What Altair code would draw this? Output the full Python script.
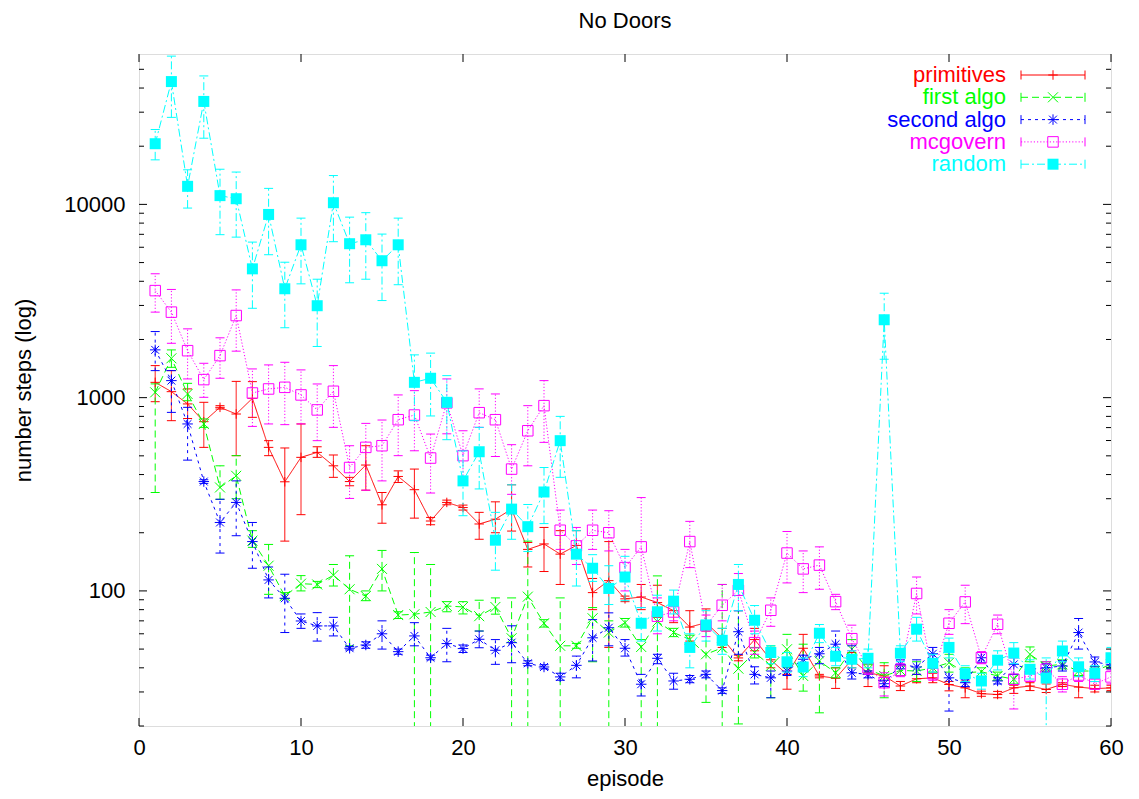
import altair as alt
import pandas as pd

episodes = list(range(1, 61))
series_names = ["primitives", "first algo", "second algo", "mcgovern", "random"]
series_colors = ["#ff0000", "#00ff00", "#0000ff", "#ff00ff", "#00ffff"]

prim_val = [1200, 1074, 928, 751, 891, 823, 992, 553, 367, 491,
            521, 444, 368, 448, 279, 391, 334, 230, 287, 270,
            222, 235, 265, 164, 175, 155, 172, 98, 113, 91,
            93, 87, 79, 65, 68.5, 57, 45, 56, 44, 37,
            50.5, 36.3, 35.3, 44, 37.7, 36.3, 32.2, 35.1, 35.5, 32.8,
            31.5, 29.4, 29.1, 31.5, 32.2, 30.9, 32.9, 31.8, 31.2, 31.5]
prim_lo = [953, 760, 780, 553, 873, 501, 791, 501, 181, 248,
           491, 387, 350, 332, 224, 364, 238, 220, 279, 262,
           185, 200, 204, 133, 126, 108, 149, 80, 51, 88,
           80, 73, 68.5, 55, 62, 51, 43.5, 49, 40, 31,
           40, 35.5, 31.3, 40, 32, 32, 30.5, 33.5, 33.5, 30.4,
           28, 28.5, 28, 29.5, 30.5, 29.8, 32, 28, 30, 30.5]
prim_hi = [1465, 1380, 1110, 946, 909, 1214, 1210, 599, 549, 731,
           557, 505, 387, 564, 323, 418, 427, 240, 295, 278,
           255, 289, 354, 178, 213, 205, 205, 116, 180, 94,
           108, 107, 84, 79, 80.7, 64, 46.5, 64, 51, 42,
           59.6, 37, 40, 48, 42, 41, 34, 37, 37.5, 34,
           34.2, 30.3, 30.2, 32.5, 33.5, 33, 33.5, 36.3, 32.5, 32.5]

first_val = [1065, 1598, 1045, 731, 343, 394, 182, 135, 94, 109,
             108, 120.6, 102, 94, 130, 75, 75.7, 77.8, 83.6, 82.6,
             74, 82.6, 56.9, 93.4, 68, 52, 52, 72.2, 60.9, 68.5,
             51.3, 69.4, 60.9, 56, 47, 50.8, 39.6, 48, 40.9, 49.9,
             36.3, 43.4, 37.7, 49.9, 39.3, 36.3, 38.8, 38.5, 40, 42.5,
             37.7, 38.2, 36.3, 34.9, 47, 40.9, 41.7, 38.5, 38.5, 41.7]
first_lo = [323, 1435, 964, 702, 298, 300, 168, 96, 91, 100,
            104, 106, 52, 89, 100, 72, 10, 10, 78, 76,
            62, 75.8, 10, 10, 65, 10, 50.5, 43, 10, 65,
            10, 10, 58, 53, 26.5, 10, 20.5, 45, 28, 40,
            30.3, 23.4, 35.5, 43, 37, 28, 36.5, 34, 38, 38,
            35.5, 36, 34.5, 33, 43, 38.5, 39.5, 36.5, 36.5, 39.5]
first_hi = [1178, 1766, 1186, 776, 444, 501, 205, 174, 98, 120,
            112, 137, 152, 100, 162, 78, 158, 137, 88, 88,
            89.5, 92, 92, 181, 71, 92, 53.5, 82, 70, 72,
            56, 119.6, 64, 59, 64, 108, 79, 51, 52, 59.6,
            53, 59.6, 40, 56, 41.5, 42.5, 41, 43, 42, 47,
            40, 40, 38, 37, 51.3, 43, 44, 40.5, 40.5, 44]

second_val = [1767, 1225, 731, 368, 226, 287, 180, 114, 91.6, 69.9,
              65.9, 65.9, 50.5, 52.5, 60, 48.5, 58.5, 45.1, 53.4, 50.3,
              56.2, 49.3, 54, 42.2, 40.4, 35.9, 41.2, 57.2, 64.5, 50.5,
              32.9, 44.8, 34.2, 34.9, 37, 30.5, 61.5, 37, 35.5, 38.5,
              44.3, 47.3, 53, 37.7, 37, 33.1, 41.7, 40.4, 47.3, 35.5,
              33.5, 45.1, 34.2, 41.7, 39.3, 40, 40.9, 60.9, 42.9, 41.4]
second_lo = [1380, 839, 475, 360, 157, 193, 131, 92, 60.9, 64,
             55, 58.5, 49.5, 50.5, 50, 47, 52, 44, 43, 48,
             50.8, 41.7, 42.5, 41, 39.5, 34.5, 35.5, 43.4, 52, 46,
             28.6, 42, 31, 33.5, 35.5, 29.5, 47, 33, 28, 36.5,
             42, 42, 45, 35, 35.5, 32, 39.5, 37, 41.5, 23.9,
             32, 42.5, 33, 37, 37.5, 38, 38.5, 50, 40.5, 39.5]
second_hi = [2198, 1380, 891, 376, 298, 371, 226, 133, 122, 76,
             77.2, 73, 51.5, 54.5, 70, 50, 68.5, 46.5, 64, 52.5,
             62, 56, 66, 43.5, 41.5, 37.5, 46, 71, 77, 56,
             37, 47, 37.5, 36.5, 38.5, 31.5, 79, 40.5, 38.5, 40.5,
             46.5, 51, 62, 52, 38.5, 34.5, 44, 44, 51, 48.9,
             35, 48, 35.5, 46, 41, 42, 43.5, 72, 45.5, 43.5]

mcg_val = [3580, 2770, 1750, 1240, 1650, 2660, 1057, 1109, 1131, 1033,
           864, 1079, 435, 553, 564, 769, 813, 487, 940, 501,
           836, 769, 427, 674, 909, 206, 171, 206, 200, 132,
           169, 74, 77.8, 180, 66, 84.3, 100.8, 54, 79.4, 157,
           130, 136, 88, 56.6, 40, 33.5, 38.8, 97, 37.3, 68,
           87.7, 45.1, 67.2, 34.9, 36.3, 39.3, 32.9, 36.7, 33, 35.9]
mcg_lo = [2770, 1911, 1250, 1004, 1260, 1740, 710, 731, 725, 731,
          599, 702, 301, 332, 371, 501, 531, 321, 650, 380,
          702, 496, 316, 444, 587, 164, 137, 164, 161, 100,
          82, 60, 70, 132, 58, 70, 79, 47, 65.6, 110,
          98, 102, 80, 49, 37, 28.6, 36, 76, 34.5, 59.6,
          67.7, 42, 60, 24.5, 34, 36, 30, 34, 31, 33]
mcg_hi = [4375, 3630, 2270, 1506, 2040, 3610, 1408, 1477, 1524, 1392,
          1177, 1465, 564, 736, 766, 1033, 1087, 648, 1250, 674,
          1110, 1045, 571, 909, 1225, 262, 213, 262, 260, 164,
          304, 92, 89, 229, 75, 108, 123, 62, 92, 203,
          161, 169, 96, 66.5, 43, 37.7, 42, 118, 40, 80,
          107, 48.5, 75, 45, 39, 43, 36, 40, 35, 39]

rand_val = [20600, 43200, 12400, 34100, 11100, 10700, 4640, 8870, 3660, 6180,
            2990, 10200, 6260, 6560, 5110, 6180, 1200, 1260, 946, 371,
            525, 183, 265, 215, 325, 599, 155, 131, 103, 118,
            68, 78, 88.5, 51, 66.7, 55.5, 108, 70.5, 48, 43,
            40.4, 60.4, 45.9, 44.3, 44.8, 2530, 47.6, 63.4, 42.2, 51,
            37.3, 34.2, 43.8, 47.7, 39.3, 35.4, 48.9, 40.5, 37.5, 45.1]
rand_lo = [17000, 28200, 9570, 22000, 6970, 6770, 2900, 5490, 2300, 3880,
           1840, 6410, 3930, 4100, 3180, 3840, 760, 804, 606, 245,
           337, 128, 185, 160, 223, 387, 106, 112, 85, 89,
           55, 62, 76, 40, 55, 47, 79, 60, 42, 38,
           36, 54, 41, 40, 40, 1580, 43, 55, 38, 45,
           34, 31, 39, 42, 35, 10, 43, 36, 34, 40]
rand_hi = [24400, 58500, 15100, 46200, 15200, 14700, 6380, 12100, 5020, 8490,
           4100, 14100, 8590, 9060, 7020, 8490, 1665, 1700, 1300, 530,
           702, 255, 354, 280, 435, 800, 205, 154, 135, 151,
           82, 95, 101, 60, 79, 64, 137, 84, 52, 48,
           45, 67, 51, 49, 50, 3470, 52, 73, 47, 57,
           41, 37.5, 49, 54, 44, 45, 55, 45, 41, 51]

x_tick_values = [0, 10, 20, 30, 40, 50, 60]
y_major_values = [100, 1000, 10000]
y_minor_values = [20, 30, 40, 50, 60, 70, 80, 90,
                  200, 300, 400, 500, 600, 700, 800, 900,
                  2000, 3000, 4000, 5000, 6000, 7000, 8000, 9000,
                  20000, 30000, 40000, 50000]

W, H = 972, 672
LEFT, TOP = 139, 54
FONT = "Liberation Sans"
FS = 22

xscale = alt.Scale(domain=[0, 60], nice=False, zero=False)
yscale = alt.Scale(type="log", domain=[20, 60000], nice=False)
xaxis = alt.Axis(values=x_tick_values, ticks=False, domain=False, grid=False,
                 labelFlush=False, labelOverlap=False,
                 labelFontSize=FS, labelPadding=11, title="episode",
                 titleFontSize=FS, titleFontWeight="normal", titlePadding=10)
yaxis = alt.Axis(values=y_major_values, format="d", ticks=False, domain=False, grid=False,
                 labelFlush=False, labelOverlap=False,
                 labelFontSize=FS, labelPadding=14, title="number steps (log)",
                 titleFontSize=FS, titleFontWeight="normal", titlePadding=28)


def X(field):
    return alt.X(field + ":Q", scale=xscale, axis=xaxis)


def Y(field):
    return alt.Y(field + ":Q", scale=yscale, axis=yaxis)


PLUS = "M-1,0L1,0M0,-1L0,1"
CROSS = "M-1,-1L1,1M-1,1L1,-1"
STAR = "M-1,0L1,0M0,-1L0,1M-0.75,-0.75L0.75,0.75M-0.75,0.75L0.75,-0.75"

styles = {
    "primitives": dict(dash=[1, 0], shape=PLUS, filled=False, size=90),
    "first algo": dict(dash=[7, 4], shape=CROSS, filled=False, size=100),
    "second algo": dict(dash=[3, 4], shape=STAR, filled=False, size=110),
    "mcgovern": dict(dash=[1.2, 2], shape="square", filled=False, size=110),
    "random": dict(dash=[8, 3, 2, 3], shape="square", filled=True, size=121),
}

data_sets = {
    "primitives": (prim_val, prim_lo, prim_hi),
    "first algo": (first_val, first_lo, first_hi),
    "second algo": (second_val, second_lo, second_hi),
    "mcgovern": (mcg_val, mcg_lo, mcg_hi),
    "random": (rand_val, rand_lo, rand_hi),
}

layers = []
for name, color in zip(series_names, series_colors):
    val, lo, hi = data_sets[name]
    st = styles[name]
    df = pd.DataFrame({"episode": episodes, "steps": val, "lo": lo, "hi": hi})
    base = alt.Chart(df)
    dash = st["dash"]
    bars = base.mark_rule(color=color, strokeWidth=1, strokeDash=dash, clip=True).encode(
        x=X("episode"), y=Y("lo"), y2="hi")
    cap_lo = base.mark_rule(color=color, strokeWidth=1, clip=True, xOffset=-4.5, x2Offset=4.5).encode(
        x=X("episode"), x2="episode", y=Y("lo"))
    cap_hi = base.mark_rule(color=color, strokeWidth=1, clip=True, xOffset=-4.5, x2Offset=4.5).encode(
        x=X("episode"), x2="episode", y=Y("hi"))
    line = base.mark_line(color=color, strokeWidth=1, strokeDash=dash, clip=True).encode(
        x=X("episode"), y=Y("steps"))
    if st["filled"]:
        pts = base.mark_point(shape=st["shape"], filled=True, fill=color, color=color,
                              size=st["size"], opacity=1, strokeWidth=0, clip=True).encode(
            x=X("episode"), y=Y("steps"))
    else:
        pts = base.mark_point(shape=st["shape"], filled=False, color=color,
                              size=st["size"], opacity=1, strokeWidth=1, clip=True).encode(
            x=X("episode"), y=Y("steps"))
    layers += [bars, cap_lo, cap_hi, line, pts]

# inward ticks (gnuplot style, mirrored)
MAJ, MIN = 8, 5
xt = alt.Chart(pd.DataFrame({"t": x_tick_values}))
layers.append(xt.mark_rule(color="black", strokeWidth=1).encode(
    x=X("t"), y=alt.value(H), y2=alt.value(H - MAJ)))
layers.append(xt.mark_rule(color="black", strokeWidth=1).encode(
    x=X("t"), y=alt.value(0), y2=alt.value(MAJ)))
ymaj = alt.Chart(pd.DataFrame({"v": y_major_values}))
ymin = alt.Chart(pd.DataFrame({"v": y_minor_values}))
layers.append(ymaj.mark_rule(color="black", strokeWidth=1).encode(
    y=Y("v"), x=alt.value(0), x2=alt.value(MAJ)))
layers.append(ymaj.mark_rule(color="black", strokeWidth=1).encode(
    y=Y("v"), x=alt.value(W), x2=alt.value(W - MAJ)))
layers.append(ymin.mark_rule(color="black", strokeWidth=1).encode(
    y=Y("v"), x=alt.value(0), x2=alt.value(MIN)))
layers.append(ymin.mark_rule(color="black", strokeWidth=1).encode(
    y=Y("v"), x=alt.value(W), x2=alt.value(W - MIN)))

# legend (gnuplot style key, inside top right)
for i, (name, color) in enumerate(zip(series_names, series_colors)):
    st = styles[name]
    yi = 21 + 22.3 * i
    one = alt.Chart(pd.DataFrame({"label": [name]}))
    layers.append(one.mark_text(align="right", baseline="middle", fontSize=FS, font=FONT,
                                color=color).encode(
        x=alt.value(867), y=alt.value(yi), text="label:N"))
    layers.append(one.mark_rule(color=color, strokeWidth=1, strokeDash=st["dash"]).encode(
        x=alt.value(882), x2=alt.value(946), y=alt.value(yi)))
    for xc in (882, 946):
        layers.append(one.mark_rule(color=color, strokeWidth=1).encode(
            x=alt.value(xc), y=alt.value(yi - 4.5), y2=alt.value(yi + 4.5)))
    if st["filled"]:
        layers.append(one.mark_point(shape=st["shape"], filled=True, fill=color, color=color,
                                     size=st["size"], opacity=1, strokeWidth=0).encode(
            x=alt.value(914), y=alt.value(yi)))
    else:
        layers.append(one.mark_point(shape=st["shape"], filled=False, color=color,
                                     size=st["size"], opacity=1, strokeWidth=1).encode(
            x=alt.value(914), y=alt.value(yi)))

chart = alt.layer(*layers).properties(
    width=W, height=H,
    title=alt.TitleParams("No Doors", fontSize=FS, font=FONT, fontWeight="normal",
                          anchor="middle", offset=21, color="black"),
    autosize=alt.AutoSizeParams(type="none"),
    padding={"left": LEFT, "top": TOP, "right": 1139 - LEFT - W, "bottom": 799 - TOP - H},
).configure_view(stroke="black", strokeWidth=1).configure_axis(
    labelFont=FONT, titleFont=FONT, labelColor="black", titleColor="black"
).configure(background="white")

chart.save("out.html", embed_options={"renderer": "svg", "actions": False})
